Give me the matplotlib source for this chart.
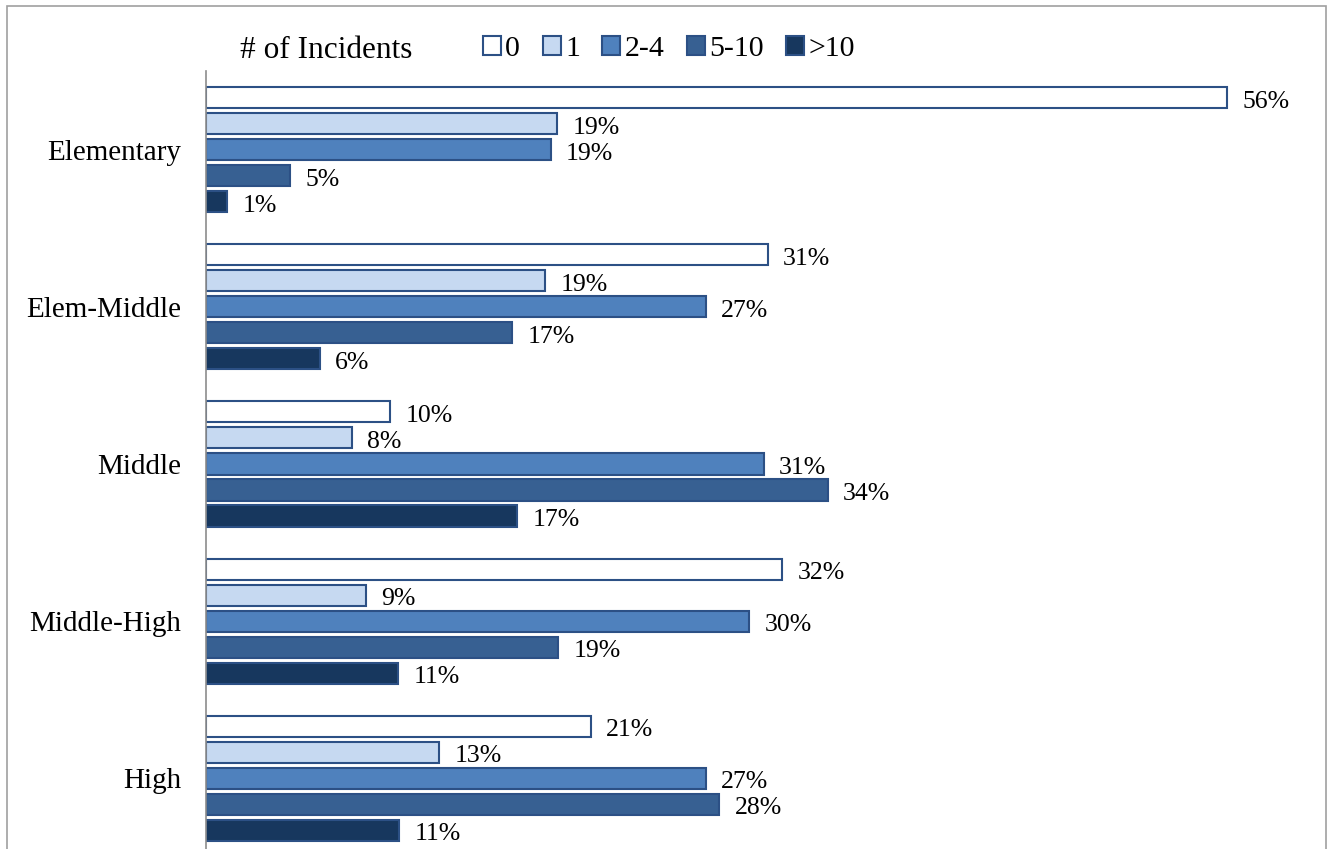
import matplotlib.pyplot as plt
from matplotlib.patches import Rectangle
import numpy as np

plt.rcParams['font.family'] = ['Liberation Serif', 'DejaVu Serif']

categories = ["Elementary", "Elem-Middle", "Middle", "Middle-High", "High"]
series = ["0", "1", "2-4", "5-10", ">10"]
# share of schools (%); labels show them rounded
vals_0 = [56.0, 30.8, 10.1, 31.6, 21.1]
vals_1 = [19.25, 18.6, 8.0, 8.75, 12.8]
vals_24 = [18.9, 27.4, 30.6, 29.8, 27.4]
vals_510 = [4.6, 16.8, 34.1, 19.3, 28.15]
vals_gt10 = [1.15, 6.24, 17.06, 10.55, 10.6]
data = [vals_0, vals_1, vals_24, vals_510, vals_gt10]

colors = ["#ffffff", "#c6d9f1", "#4f81bd", "#376092", "#17375e"]
edge = "#2c5085"

fig = plt.figure(figsize=(13.28, 8.49), dpi=100)
# axis area: left spine at x=206px, top at y=71px, cut off at bottom
ax = fig.add_axes([206/1328, 0, 1094/1328, 1 - 71.5/849])

y = np.arange(len(categories))
step = 26/157
h = 21/157
for k, (name, vals) in enumerate(zip(series, data)):
    yy = y + (k - 2)*step
    ax.barh(yy, vals, height=h, color=colors[k],
            edgecolor=edge, linewidth=1.5, label=name)
    for v, yv in zip(vals, yy):
        ax.annotate(f"{v:.0f}%", (v, yv), xytext=(11, -3), textcoords='offset points',
                    va='center', ha='left', fontsize=18.5)

ax.set_xlim(0, 60)
ax.set_ylim((849 - 150)/157, -0.5)
ax.set_yticks(y)
ax.set_yticklabels(categories, fontsize=21)
ax.tick_params(axis='y', length=0, pad=18)
ax.set_xticks([])
for s in ['top', 'right', 'bottom']:
    ax.spines[s].set_visible(False)
ax.spines['left'].set_color('#8c8c8c')
ax.spines['left'].set_linewidth(1.2)

fig.text(240/1328, 1 - 50/849, "# of Incidents", fontsize=22.5, va='center', ha='left')
fig.legend(loc='center left', bbox_to_anchor=(468/1328, 1 - 49/849), ncol=5,
           frameon=False, fontsize=21.5, handlelength=0.6, handleheight=0.6,
           handletextpad=0.15, columnspacing=0.75, borderpad=0)

fig.add_artist(Rectangle((7/1328, -0.1), (1326 - 7)/1328, 1.1 - 6/849,
                         transform=fig.transFigure, fill=False,
                         edgecolor='#a0a0a0', linewidth=1.2, clip_on=False))

fig.savefig("out.png", dpi=100)
